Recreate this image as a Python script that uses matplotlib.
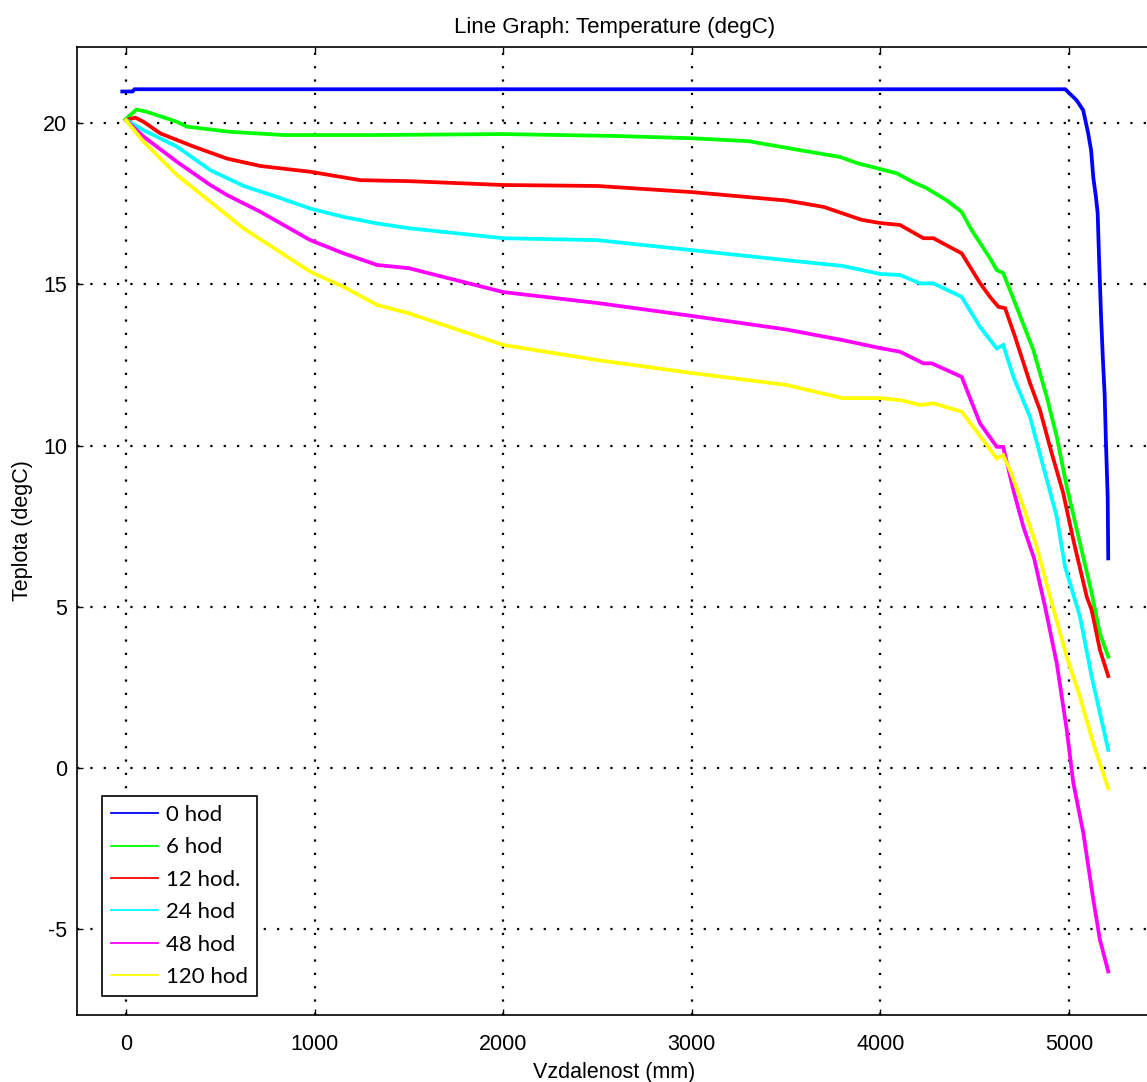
import matplotlib
matplotlib.use("Agg")
import matplotlib.pyplot as plt
from matplotlib.lines import Line2D

plt.rcParams['font.family'] = ['Liberation Sans', 'DejaVu Sans']
plt.rcParams['axes.unicode_minus'] = False  # plain hyphen like the original

# values (distance mm, temperature degC)
x_0h = [-20, 35, 45, 4980, 5040, 5075, 5090, 5101, 5117, 5129, 5143, 5152, 5159,
        5170, 5179, 5189, 5195, 5205, 5208]
t_0h = [20.98, 20.98, 21.05, 21.05, 20.71, 20.4, 20.0, 19.7, 19.16, 18.3, 17.7,
        17.2, 15.85, 14.0, 12.75, 11.57, 10.26, 8.4, 6.5]

x_6h = [-4, 55, 111, 270, 323, 551, 836, 1331, 2000, 2600, 3000, 3300, 3574, 3786,
        3876, 4003, 4088, 4173, 4246, 4279, 4353, 4430, 4484, 4581, 4617, 4651,
        4714, 4811, 4882, 4935, 4988, 5058, 5120, 5164, 5208]
t_6h = [20.11, 20.42, 20.35, 20.04, 19.89, 19.73, 19.63, 19.63, 19.66, 19.6, 19.53,
        19.44, 19.16, 18.95, 18.76, 18.57, 18.44, 18.17, 17.98, 17.86, 17.6, 17.25,
        16.68, 15.81, 15.44, 15.35, 14.42, 12.96, 11.51, 10.27, 8.72, 6.98, 5.43,
        4.17, 3.45]

x_12h = [5, 49, 93, 182, 359, 535, 712, 977, 1242, 1500, 2000, 2500, 3000, 3500,
         3700, 3900, 4000, 4104, 4228, 4281, 4431, 4528, 4581, 4626, 4661, 4714,
         4793, 4846, 4908, 4969, 5023, 5094, 5120, 5164, 5208]
t_12h = [20.1, 20.17, 20.04, 19.68, 19.27, 18.9, 18.67, 18.49, 18.23, 18.2, 18.08,
         18.05, 17.86, 17.6, 17.4, 17.0, 16.9, 16.84, 16.43, 16.43, 15.96, 15.04,
         14.61, 14.3, 14.26, 13.37, 11.94, 11.1, 9.77, 8.53, 7.07, 5.31, 4.9, 3.66,
         2.85]

x_24h = [2, 93, 270, 447, 624, 801, 977, 1154, 1331, 1500, 2000, 2500, 3000, 3500,
         3800, 4000, 4104, 4210, 4281, 4431, 4528, 4617, 4651, 4705, 4793, 4864,
         4935, 4979, 5005, 5058, 5120, 5164, 5208]
t_24h = [20.09, 19.78, 19.27, 18.54, 18.05, 17.71, 17.35, 17.09, 16.89, 16.74,
         16.43, 16.37, 16.06, 15.75, 15.57, 15.32, 15.29, 15.03, 15.03, 14.61, 13.68,
         13.01, 13.12, 12.13, 10.89, 9.34, 7.79, 6.24, 5.73, 4.7, 2.84, 1.7, 0.56]

x_48h = [0, 93, 270, 447, 535, 712, 977, 1154, 1331, 1500, 2000, 2500, 3000, 3500,
         3800, 4000, 4104, 4228, 4272, 4431, 4528, 4617, 4651, 4705, 4758, 4815,
         4873, 4935, 4988, 5023, 5076, 5129, 5164, 5208]
t_48h = [20.09, 19.58, 18.8, 18.08, 17.77, 17.25, 16.37, 15.96, 15.6, 15.5, 14.76,
         14.42, 14.02, 13.6, 13.27, 13.02, 12.91, 12.55, 12.55, 12.13, 10.69, 9.96,
         9.96, 8.62, 7.48, 6.5, 5.0, 3.25, 1.18, -0.47, -2.02, -4.09, -5.33, -6.31]

x_120h = [0, 93, 270, 447, 624, 801, 977, 1154, 1331, 1500, 2000, 2500, 3000, 3500,
          3800, 4000, 4104, 4210, 4281, 4431, 4505, 4617, 4651, 4687, 4758, 4829,
          4903, 4988, 5058, 5129, 5208]
t_120h = [20.09, 19.42, 18.39, 17.56, 16.73, 16.06, 15.39, 14.92, 14.36, 14.1,
          13.12, 12.65, 12.25, 11.88, 11.47, 11.47, 11.41, 11.26, 11.31, 11.05, 10.48,
          9.6, 9.7, 9.24, 8.1, 6.86, 5.23, 3.45, 2.21, 0.76, -0.63]

series = [
    ("0 hod", x_0h, t_0h, "#0000ff"),
    ("6 hod", x_6h, t_6h, "#00ff00"),
    ("12 hod.", x_12h, t_12h, "#ff0000"),
    ("24 hod", x_24h, t_24h, "#00ffff"),
    ("48 hod", x_48h, t_48h, "#ff00ff"),
    ("120 hod", x_120h, t_120h, "#ffff00"),
]

xticks = [0, 1000, 2000, 3000, 4000, 5000]
yticks = [-5, 0, 5, 10, 15, 20]

W, H = 1147, 1082
fig = plt.figure(figsize=(W / 100, H / 100), dpi=100)
# axes runs off the right edge like in the original screenshot
ax = fig.add_axes([77 / W, (H - 1015) / H, 1075 / W, 968 / H])

for name, xs, ts, col in series:
    ax.plot(xs, ts, color=col, lw=2.7, solid_joinstyle="miter")

ax.set_xlim(-260, 5440)
ax.set_ylim(-7.66, 22.36)
ax.set_xticks(xticks)
ax.set_yticks(yticks)
ax.grid(True, color="black", linestyle=(0, (1, 5)), linewidth=1.6)
ax.tick_params(direction="in", length=4, width=1, labelsize=15.5, top=True,
               right=False, pad=14)
ax.tick_params(axis="y", pad=7)
for s in ax.spines.values():
    s.set_linewidth(1.2)
ax.spines["right"].set_visible(False)

ax.set_title("Line Graph: Temperature (degC)", fontsize=16, pad=10)
ax.set_xlabel("Vzdalenost (mm)", fontsize=15.5, labelpad=5)
ax.set_ylabel("Teplota (degC)", fontsize=15.5, labelpad=7)

# legend with thin sample lines
handles = [Line2D([], [], color=c, lw=1.3) for _, _, _, c in series]
labels = [n for n, _, _, _ in series]
leg = ax.legend(handles, labels, loc="lower left", bbox_to_anchor=(25 / 1075, 19 / 968),
                borderaxespad=0, prop={"family": "Lato", "size": 16}, frameon=True,
                fancybox=False, framealpha=1, edgecolor="black", handlelength=2.1,
                handletextpad=0.4, labelspacing=0.56, borderpad=0.4)
leg.get_frame().set_linewidth(1.2)

fig.savefig("out.png", dpi=100)
